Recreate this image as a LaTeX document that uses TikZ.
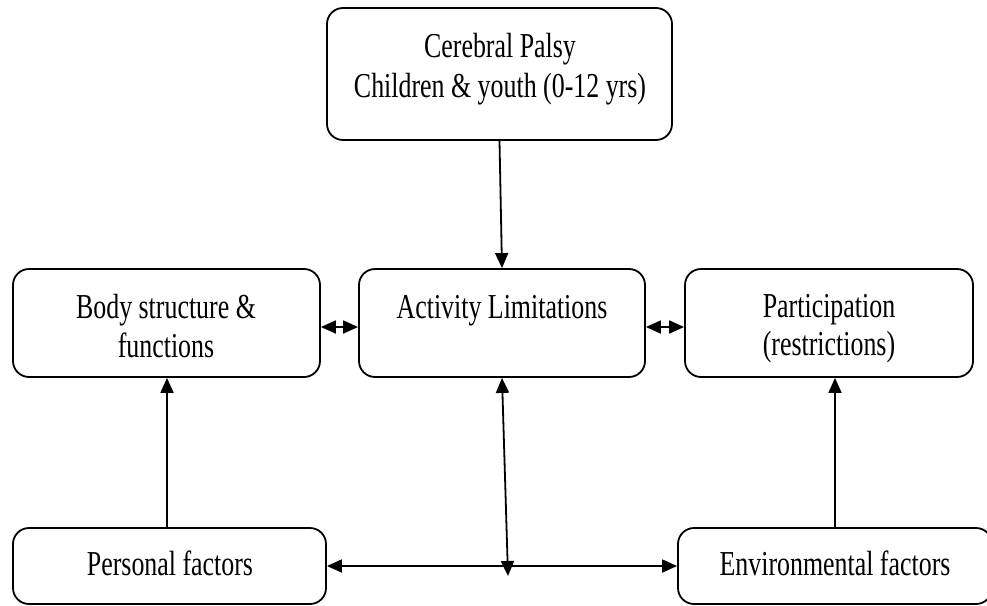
\documentclass[tikz,border=0pt]{standalone}
\usepackage{fontspec}
\setmainfont{Liberation Serif}[FakeStretch=0.74]
\usetikzlibrary{arrows.meta}
\tikzset{
  box/.style={draw, line width=1.8pt, rounded corners=16pt, inner sep=0pt},
  lbl/.style={anchor=base, inner sep=0pt, font=\fontsize{35}{40}\selectfont},
  link/.style={line width=1.8pt},
  tip/.style={-{Triangle[length=15pt,width=13pt]}},
  twotip/.style={{Triangle[length=15pt,width=13pt]}-{Triangle[length=15pt,width=13pt]}}
}
\begin{document}
\begin{tikzpicture}[x=1pt, y=-1pt]
  \useasboundingbox (0,0) rectangle (987,605);
  \clip (0,0) rectangle (987,605);

  % boxes
  \node[box, minimum width=345pt, minimum height=132pt] (cp)   at (499.5,74) {};
  \node[box, minimum width=307pt, minimum height=108pt] (body) at (166.5,323) {};
  \node[box, minimum width=286pt, minimum height=108pt] (act)  at (502,323) {};
  \node[box, minimum width=288pt, minimum height=108pt] (part) at (829,323) {};
  \node[box, minimum width=313pt, minimum height=76pt]  (pers) at (169.5,566) {};
  \node[box, minimum width=314pt, minimum height=76pt]  (env)  at (835,566) {};

  % labels
  \node[lbl] (cpA)   at (500,57)  {Cerebral Palsy};
  \node[lbl] (cpB)   at (500,97)  {Children \& youth (0-12 yrs)};
  \node[lbl] (bodyA) at (166,318) {Body structure \&};
  \node[lbl] (bodyB) at (166,357) {functions};
  \node[lbl] (actA)  at (502,318) {Activity Limitations};
  \node[lbl] (partA) at (829,317) {Participation};
  \node[lbl] (partB) at (829,355) {(restrictions)};
  \node[lbl] (persA) at (170,575) {Personal factors};
  \node[lbl] (envA)  at (835,575) {Environmental factors};

  % connectors
  \draw[link,tip] (cp.south) -- (act.north);
  \draw[link,twotip] ([yshift=-4pt]body.east) -- ([yshift=-4pt]act.west);
  \draw[link,twotip] ([yshift=-4pt]act.east) -- ([yshift=-4pt]part.west);
  \draw[link,tip] ([xshift=-2.5pt]pers.north) -- ([xshift=-2.5pt]pers.north |- body.south);
  \draw[link,tip] (env.north) -- (env.north |- part.south);
  \draw[link,twotip] (pers.east) -- (env.west);
  \coordinate (jn) at (508,576);
  \draw[link,twotip] (act.south) -- (jn);
\end{tikzpicture}
\end{document}
